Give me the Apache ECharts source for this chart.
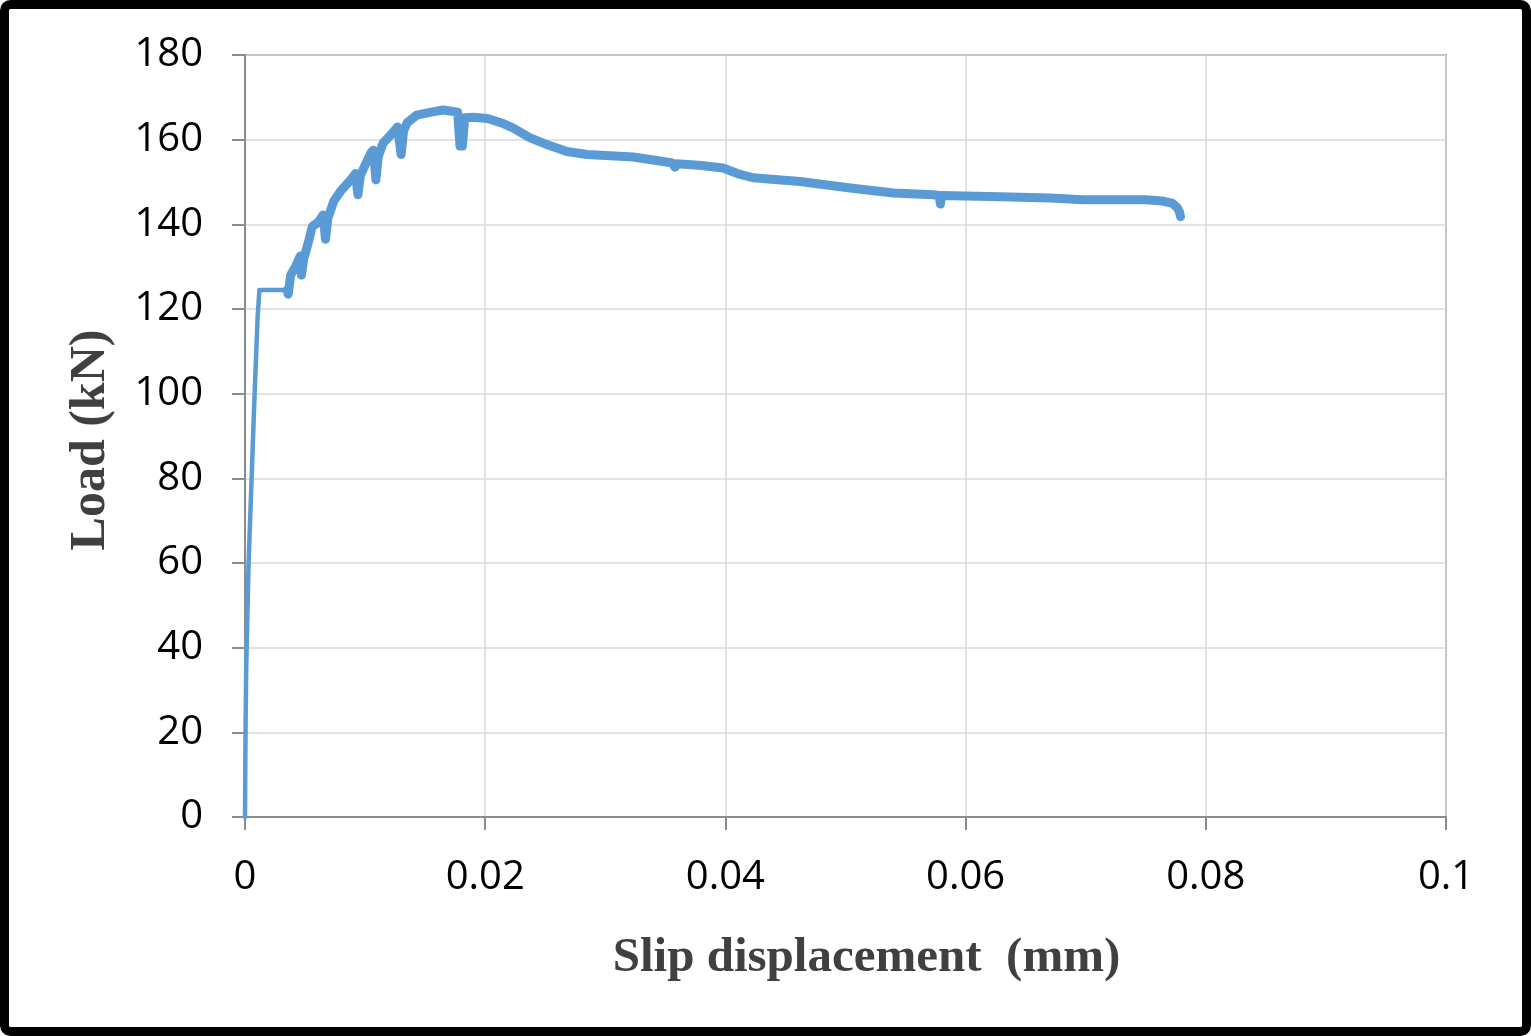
<!DOCTYPE html>
<html>
<head>
<meta charset="utf-8">
<title>Load - slip</title>
<script src="https://cdn.jsdelivr.net/npm/echarts@6/dist/echarts.min.js"></script>
<style>
  html, body { margin: 0; padding: 0; background: #fff; }
  #chart { width: 1531px; height: 1036px; }
</style>
</head>
<body>
<div id="chart"></div>
<script>
// elastic branch (thin part of the curve)
const riseSlip = [0, 0.00002, 0.00005, 0.0001, 0.00018, 0.0003, 0.00055, 0.0008, 0.00105, 0.0012, 0.0035];
const riseLoad = [0, 10, 22, 35, 45, 60, 80, 100, 118, 124.5, 124.5];

// hardening + softening branch (noisy, drawn thicker)
const softSlip = [
  0.0035, 0.0036, 0.0038, 0.0042, 0.0046, 0.0047, 0.0049, 0.0053, 0.0056, 0.0061,
  0.0065, 0.0067, 0.0069, 0.0074, 0.0080, 0.0088, 0.0092, 0.0094, 0.0096, 0.0100,
  0.0105, 0.0107, 0.0109, 0.0111, 0.0115, 0.0121, 0.0127, 0.0130, 0.0132, 0.0135,
  0.0143, 0.0155, 0.0165, 0.0177, 0.0179, 0.0181, 0.0183, 0.0190, 0.0202, 0.0215,
  0.0223, 0.0237, 0.0250, 0.0268, 0.0285, 0.0323, 0.0340, 0.0356, 0.0358, 0.0360,
  0.0380, 0.0398, 0.0410, 0.0423, 0.0462, 0.0504, 0.0540, 0.0573, 0.0578, 0.0579,
  0.0580, 0.0629, 0.0670, 0.0698, 0.0750, 0.0764, 0.0772, 0.0776, 0.0778, 0.0779
];
const softLoad = [
  124.5, 123.5, 128, 130, 132.5, 128, 132, 136, 139.5, 140.5,
  142.2, 136.5, 141.5, 145.5, 148, 150.5, 152, 147, 151.5, 154,
  157, 157.5, 150.5, 156, 159.2, 161, 163, 156.5, 162, 164,
  165.8, 166.5, 167, 166.5, 158.5, 158.5, 165.2, 165.3, 165, 163.8,
  162.8, 160.5, 159, 157.2, 156.5, 155.9, 155.2, 154.5, 153.5, 154.3,
  153.9, 153.3, 152, 151, 150.1, 148.6, 147.4, 147, 146.8, 144.8,
  146.8, 146.5, 146.2, 145.8, 145.8, 145.5, 145, 144, 143, 141.8
];

const zip = (xs, ys) => xs.map((x, i) => [x, ys[i]]);

const chart = echarts.init(document.getElementById('chart'));
const lineColor = '#5b9bd5';
const axisGray = '#8c8c8c';

const option = {
  animation: false,
  backgroundColor: '#fff',
  grid: {
    left: 245,
    right: 85,
    top: 55,
    bottom: 219,
    show: true,
    borderColor: axisGray,
    borderWidth: 2,
  },
  xAxis: {
    type: 'value',
    min: 0,
    max: 0.1,
    interval: 0.02,
    name: 'Slip displacement  (mm)',
    nameLocation: 'middle',
    nameGap: 117,
    nameTextStyle: {
      fontFamily: 'Liberation Serif',
      fontWeight: 'bold',
      fontSize: 49,
      color: '#404040',
      padding: [0, 0, 0, 42],
    },
    axisLine: { show: true, lineStyle: { color: axisGray, width: 2 } },
    axisTick: { show: true, length: 13, lineStyle: { color: axisGray, width: 2 } },
    axisLabel: {
      margin: 41,
      fontFamily: 'Open Sans',
      fontSize: 40,
      color: '#000',
      formatter: (v) => String(+v.toFixed(2)),
    },
    splitLine: { show: true, lineStyle: { color: '#d9d9d9', width: 1.5 } },
  },
  yAxis: {
    type: 'value',
    min: 0,
    max: 180,
    interval: 20,
    name: 'Load (kN)',
    nameLocation: 'middle',
    nameGap: 129,
    nameTextStyle: {
      fontFamily: 'Liberation Serif',
      fontWeight: 'bold',
      fontSize: 50,
      color: '#404040',
      padding: [0, 8, 0, 0],
    },
    axisLine: { show: true, lineStyle: { color: axisGray, width: 2 } },
    axisTick: { show: true, length: 13, lineStyle: { color: axisGray, width: 2 } },
    axisLabel: {
      margin: 42,
      fontFamily: 'Open Sans',
      fontSize: 40,
      color: '#000',
    },
    splitLine: { show: true, lineStyle: { color: '#d9d9d9', width: 1.5 } },
  },
  series: [
    {
      type: 'line',
      data: zip(riseSlip, riseLoad),
      showSymbol: false,
      lineStyle: { color: lineColor, width: 4.5, join: 'round', cap: 'round' },
    },
    {
      type: 'line',
      data: zip(softSlip, softLoad),
      showSymbol: false,
      lineStyle: { color: lineColor, width: 9, join: 'round', cap: 'round' },
    },
  ],
  graphic: [
    {
      type: 'rect',
      shape: { x: 4.5, y: 4.5, width: 1522, height: 1027, r: 6 },
      style: { fill: null, stroke: '#000', lineWidth: 9 },
    },
  ],
};

chart.setOption(option);
</script>
</body>
</html>
